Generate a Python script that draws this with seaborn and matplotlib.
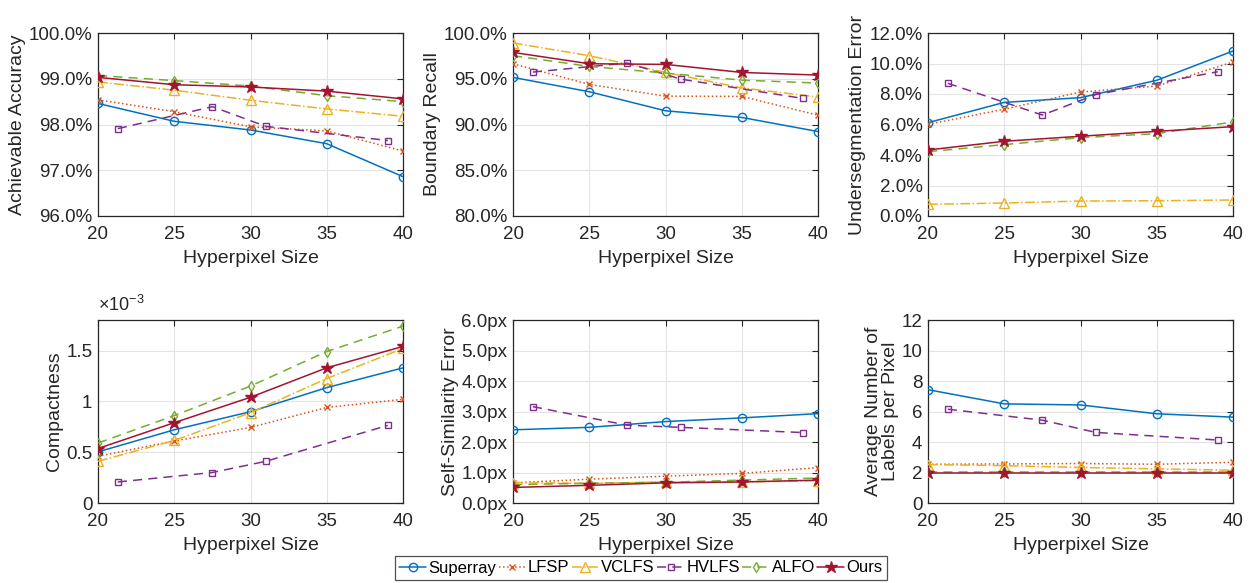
import numpy as np
import pandas as pd
import seaborn as sns
import matplotlib
matplotlib.use("Agg")
import matplotlib.pyplot as plt
from matplotlib.ticker import FuncFormatter, MultipleLocator

# Hyperpixel sizes (x axis); HVLFS was evaluated at its own sizes
sizes = [20, 25, 30, 35, 40]
hvlfs_sizes = [21.3, 27.5, 31.0, 39.0]

methods = ["Superray", "LFSP", "VCLFS", "HVLFS", "ALFO", "Ours"]

# Achievable accuracy (%)
acc_superray = [98.46, 98.07, 97.88, 97.58, 96.86]
acc_lfsp = [98.54, 98.28, 97.95, 97.86, 97.42]
acc_vclfs = [98.93, 98.75, 98.53, 98.34, 98.18]
acc_hvlfs = [97.91, 98.39, 97.96, 97.65]
acc_alfo = [99.07, 98.96, 98.84, 98.63, 98.50]
acc_ours = [99.03, 98.87, 98.82, 98.73, 98.56]

# Boundary recall (%)
br_superray = [95.15, 93.58, 91.50, 90.77, 89.23]
br_lfsp = [96.64, 94.38, 93.10, 93.07, 91.02]
br_vclfs = [98.91, 97.52, 95.70, 94.00, 93.00]
br_hvlfs = [95.73, 96.72, 94.96, 92.85]
br_alfo = [97.52, 96.35, 95.62, 94.85, 94.53]
br_ours = [97.88, 96.64, 96.57, 95.69, 95.40]

# Undersegmentation error (%)
ue_superray = [6.12, 7.45, 7.76, 8.90, 10.82]
ue_lfsp = [6.01, 7.00, 8.13, 8.52, 10.10]
ue_vclfs = [0.77, 0.85, 0.98, 1.00, 1.05]
ue_hvlfs = [8.70, 6.62, 7.96, 9.46]
ue_alfo = [4.22, 4.68, 5.14, 5.40, 6.17]
ue_ours = [4.33, 4.90, 5.23, 5.55, 5.86]

# Compactness
cp_superray = [0.503e-3, 0.720e-3, 0.898e-3, 1.135e-3, 1.329e-3]
cp_lfsp = [0.460e-3, 0.610e-3, 0.743e-3, 0.940e-3, 1.020e-3]
cp_vclfs = [0.410e-3, 0.615e-3, 0.888e-3, 1.224e-3, 1.520e-3]
cp_hvlfs = [0.207e-3, 0.300e-3, 0.410e-3, 0.763e-3]
cp_alfo = [0.590e-3, 0.860e-3, 1.150e-3, 1.490e-3, 1.740e-3]
cp_ours = [0.536e-3, 0.790e-3, 1.040e-3, 1.330e-3, 1.540e-3]

# Self-similarity error (px)
ss_superray = [2.40, 2.48, 2.67, 2.79, 2.93]
ss_lfsp = [0.66, 0.78, 0.88, 0.97, 1.16]
ss_vclfs = [0.67, 0.64, 0.69, 0.69, 0.73]
ss_hvlfs = [3.16, 2.55, 2.48, 2.31]
ss_alfo = [0.60, 0.65, 0.68, 0.75, 0.82]
ss_ours = [0.51, 0.58, 0.66, 0.69, 0.75]

# Average number of labels per pixel
nl_superray = [7.43, 6.50, 6.43, 5.85, 5.63]
nl_lfsp = [2.54, 2.56, 2.59, 2.54, 2.67]
nl_vclfs = [2.52, 2.45, 2.33, 2.24, 2.15]
nl_hvlfs = [6.15, 5.43, 4.63, 4.13]
nl_alfo = [2.02, 2.02, 2.02, 2.02, 2.02]
nl_ours = [1.96, 1.96, 1.96, 1.96, 1.96]

colors = {
    "Superray": "#0072BD",
    "LFSP": "#D95319",
    "VCLFS": "#EDB120",
    "HVLFS": "#7E2F8E",
    "ALFO": "#77AC30",
    "Ours": "#A2142F",
}
styles = {
    "Superray": dict(linestyle="-", marker="o", markersize=6, filled=False),
    "LFSP": dict(linestyle=":", marker="x", markersize=4.5, filled=False),
    "VCLFS": dict(linestyle="-.", marker="^", markersize=6.5, filled=False),
    "HVLFS": dict(linestyle=(0, (6, 4)), marker="s", markersize=4.5, filled=False),
    "ALFO": dict(linestyle=(0, (6, 4)), marker="d", markersize=5.5, filled=False),
    "Ours": dict(linestyle="-", marker="*", markersize=9, filled=True),
}

panels = [
    dict(ylabel="Achievable Accuracy",
         data=[acc_superray, acc_lfsp, acc_vclfs, acc_hvlfs, acc_alfo, acc_ours],
         ylim=(96, 100), step=1, fmt=lambda v, p: f"{v:.1f}%"),
    dict(ylabel="Boundary Recall",
         data=[br_superray, br_lfsp, br_vclfs, br_hvlfs, br_alfo, br_ours],
         ylim=(80, 100), step=5, fmt=lambda v, p: f"{v:.1f}%"),
    dict(ylabel="Undersegmentation Error",
         data=[ue_superray, ue_lfsp, ue_vclfs, ue_hvlfs, ue_alfo, ue_ours],
         ylim=(0, 12), step=2, fmt=lambda v, p: f"{v:.1f}%"),
    dict(ylabel="Compactness",
         data=[cp_superray, cp_lfsp, cp_vclfs, cp_hvlfs, cp_alfo, cp_ours],
         ylim=(0, 1.8e-3), step=0.5e-3, fmt=lambda v, p: f"{v * 1e3:g}"),
    dict(ylabel="Self-Similarity Error",
         data=[ss_superray, ss_lfsp, ss_vclfs, ss_hvlfs, ss_alfo, ss_ours],
         ylim=(0, 6), step=1, fmt=lambda v, p: f"{v:.1f}px"),
    dict(ylabel="Average Number of\nLabels per Pixel",
         data=[nl_superray, nl_lfsp, nl_vclfs, nl_hvlfs, nl_alfo, nl_ours],
         ylim=(0, 12), step=2, fmt=lambda v, p: f"{v:g}"),
]

sns.set_theme(style="white")
plt.rcParams["font.family"] = ["Liberation Sans", "DejaVu Sans"]
plt.rcParams["mathtext.fontset"] = "custom"
plt.rcParams["mathtext.rm"] = "Liberation Sans"
text_color = "#262626"

W, H = 1256, 583
fig = plt.figure(figsize=(W / 100, H / 100), dpi=100)

lefts = [98, 513, 928]
tops = [33, 320]
aw, ah = 305, 183

handles = []
for i, panel in enumerate(panels):
    r, c = divmod(i, 3)
    ax = fig.add_axes([lefts[c] / W, 1 - (tops[r] + ah) / H, aw / W, ah / H])
    for m, ys in zip(methods, panel["data"]):
        xs = hvlfs_sizes if m == "HVLFS" else sizes
        st = styles[m]
        col = colors[m]
        df = pd.DataFrame({"x": xs, "y": ys})
        sns.lineplot(data=df, x="x", y="y", ax=ax, color=col,
                     linestyle=st["linestyle"], marker=st["marker"],
                     markersize=st["markersize"], linewidth=1.1,
                     markeredgecolor=col, markeredgewidth=1.0,
                     markerfacecolor=col if st["filled"] else "none",
                     errorbar=None, legend=False, zorder=3)
        if i == 0:
            handles.append(ax.lines[-1])
    if ax.get_legend() is not None:
        ax.get_legend().remove()
    ax.set_xlim(20, 40)
    ax.set_ylim(*panel["ylim"])
    ax.xaxis.set_major_locator(MultipleLocator(5))
    ax.yaxis.set_major_locator(MultipleLocator(panel["step"]))
    ax.yaxis.set_major_formatter(FuncFormatter(panel["fmt"]))
    ax.set_xlabel("Hyperpixel Size", fontsize=14, color=text_color, labelpad=5)
    ax.set_ylabel(panel["ylabel"], fontsize=14, color=text_color, labelpad=2,
                  linespacing=1.0)
    ax.grid(True, color="#e3e3e3", linewidth=0.8)
    ax.set_axisbelow(True)
    ax.tick_params(direction="in", length=4, width=0.8, top=True, right=True,
                   labelsize=13.5, colors=text_color)
    ax.tick_params(axis="x", pad=7)
    ax.tick_params(axis="y", pad=4)
    for sp in ax.spines.values():
        sp.set_color(text_color)
        sp.set_linewidth(0.9)
        sp.set_visible(True)
    if i == 3:
        ax.text(0.0, 1.03, r"$\times10^{-3}$", transform=ax.transAxes,
                ha="left", va="bottom", fontsize=13, color=text_color)

leg = fig.legend(handles=handles, labels=methods, loc="center",
                 bbox_to_anchor=(641 / W, 1 - 568 / H), ncol=6,
                 fontsize=12, frameon=True, fancybox=False,
                 handlelength=1.6, handletextpad=0.15, columnspacing=0.15,
                 borderpad=0.25, borderaxespad=0)
leg.get_frame().set_edgecolor(text_color)
leg.get_frame().set_linewidth(0.9)
for t in leg.get_texts():
    t.set_color("black")

fig.savefig("out.png", dpi=100, facecolor="white")
